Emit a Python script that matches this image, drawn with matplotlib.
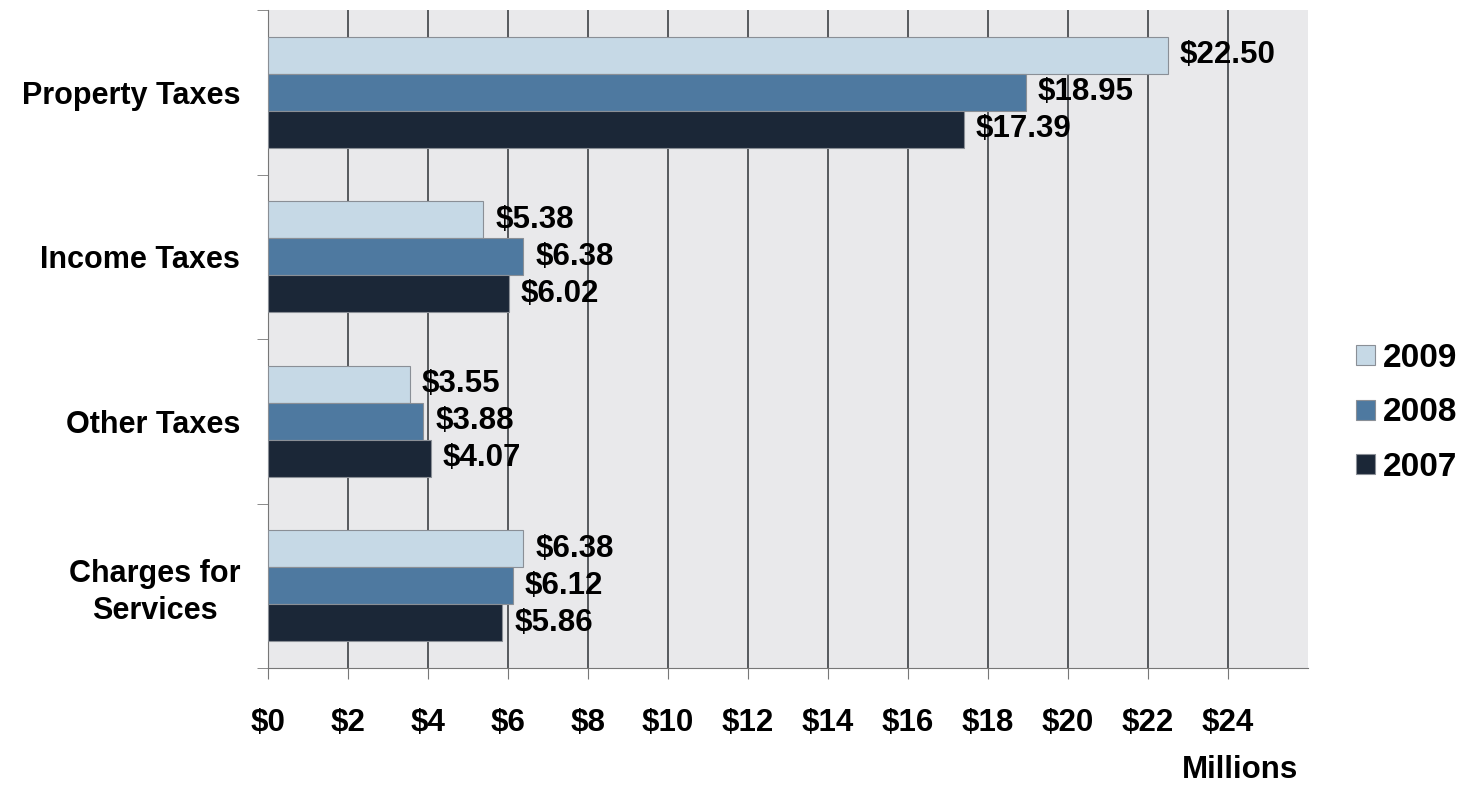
import numpy as np
import matplotlib.pyplot as plt

categories = ["Property Taxes", "Income Taxes", "Other Taxes", "Charges for\nServices"]
years = ["2009", "2008", "2007"]
vals_2009 = [22.50, 5.38, 3.55, 6.38]
vals_2008 = [18.95, 6.38, 3.88, 6.12]
vals_2007 = [17.39, 6.02, 4.07, 5.86]
colors = ["#c6d9e6", "#4e79a0", "#1b2737"]

plt.rcParams['font.family'] = ['Liberation Sans', 'DejaVu Sans']
plt.rcParams['font.weight'] = 'bold'
fs = 22.5

fig = plt.figure(figsize=(14.67, 7.86), dpi=100)
ax = fig.add_axes([268/1467, 1-668/786, (1308-268)/1467, (668-10)/786])
ax.set_facecolor("#e9e9eb")

y = np.arange(len(categories))
h = 0.224
series = [vals_2009, vals_2008, vals_2007]
for i, (vals, c, yr) in enumerate(zip(series, colors, years)):
    pos = y + (i - 1) * h
    ax.barh(pos, vals, height=h, color=c, edgecolor="#8a8f96", linewidth=0.8,
            label=yr, zorder=3)
    for p, v in zip(pos, vals):
        ax.text(v + 0.3, p, "$%.2f" % v, va="center", ha="left",
                fontsize=fs, fontweight="bold", zorder=5)

ax.set_xlim(0, 26)
ax.set_ylim(3.5, -0.5)
ax.set_xticks(np.arange(0, 25, 2))
ax.set_xticklabels(["$%d" % t for t in range(0, 25, 2)], fontsize=fs, fontweight="bold")
ax.xaxis.grid(True, color="#4a4d52", linewidth=1.3, zorder=0)
ax.set_axisbelow(True)

ax.set_yticks(y)
ax.set_yticklabels(categories, fontsize=22, fontweight="bold", linespacing=1.3,
                   multialignment="center")
ax.set_yticks(np.arange(-0.5, 4, 1), minor=True)
ax.tick_params(axis="y", which="major", length=0, pad=20)
ax.tick_params(axis="y", which="minor", length=8, color="#777", direction="out")
ax.tick_params(axis="x", length=8, color="#777", direction="out", pad=21)

for s in ["top", "right"]:
    ax.spines[s].set_visible(False)
ax.spines["left"].set_color("#777")
ax.spines["bottom"].set_color("#777")
ax.spines["left"].set_bounds(3.5, -0.5)

fig.text(1240/1467, 1-770/786, "Millions", ha="center", va="center",
         fontsize=fs, fontweight="bold")

leg = fig.legend(loc="center left", bbox_to_anchor=(1343/1467, 1-413/786),
                 frameon=False, handlelength=0.55, handleheight=0.55,
                 handletextpad=0.25, labelspacing=0.7, borderaxespad=0,
                 prop={"weight": "bold", "size": 24})

fig.savefig("out.png", dpi=100, facecolor="white")
